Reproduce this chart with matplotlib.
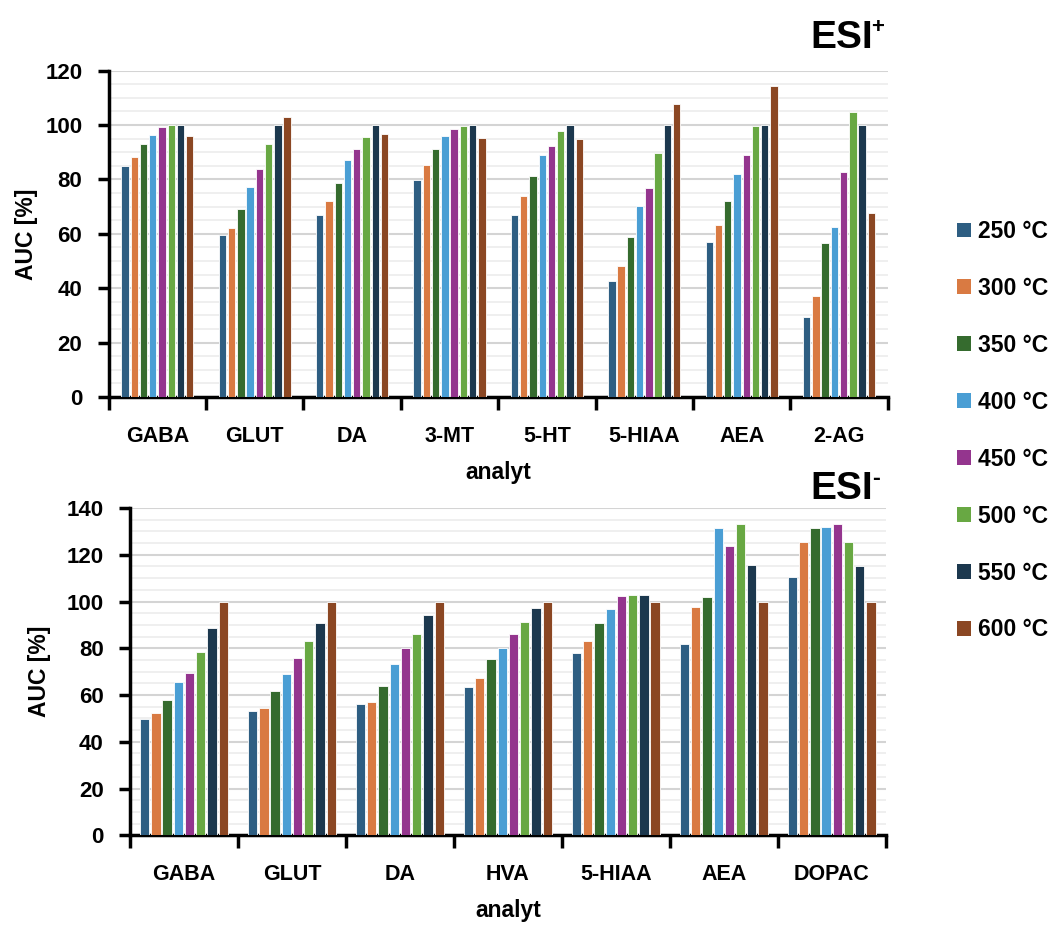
import matplotlib
matplotlib.use("Agg")
import matplotlib.pyplot as plt
import numpy as np
from matplotlib.patches import Patch
from matplotlib.ticker import MultipleLocator, FixedLocator

plt.rcParams['font.family'] = ['Liberation Sans', 'DejaVu Sans']
plt.rcParams['font.weight'] = 'bold'

temps = ['250 °C', '300 °C', '350 °C', '400 °C', '450 °C', '500 °C', '550 °C', '600 °C']
colors = ['#2E5E82', '#D97A42', '#356B2E', '#4A9ED4', '#94358E', '#68A843', '#1C384E', '#8B4723']

pos_analytes = ['GABA', 'GLUT', 'DA', '3-MT', '5-HT', '5-HIAA', 'AEA', '2-AG']
pos_250 = [84.8, 59.4, 66.8, 79.7, 66.8, 42.5, 57.0, 29.3]
pos_300 = [88.4, 62.1, 72.2, 85.2, 73.9, 48.3, 63.4, 37.1]
pos_350 = [93.0, 69.1, 78.6, 91.1, 81.3, 58.9, 72.2, 56.7]
pos_400 = [96.4, 77.3, 87.3, 96.1, 89.1, 70.3, 82.1, 62.5]
pos_450 = [99.3, 83.7, 91.1, 98.5, 92.3, 77.0, 89.1, 82.8]
pos_500 = [100.0, 93.0, 95.7, 99.8, 97.7, 89.8, 99.6, 104.8]
pos_550 = [100.0, 100.0, 100.0, 100.0, 100.0, 100.0, 100.0, 100.0]
pos_600 = [96.1, 102.8, 96.9, 95.3, 94.9, 107.8, 114.2, 67.6]

neg_analytes = ['GABA', 'GLUT', 'DA', 'HVA', '5-HIAA', 'AEA', 'DOPAC']
neg_250 = [49.6, 53.1, 56.1, 63.6, 78.1, 81.9, 110.6]
neg_300 = [52.1, 54.4, 57.1, 67.1, 83.1, 97.7, 125.3]
neg_350 = [57.7, 61.7, 64.0, 75.4, 91.0, 101.9, 131.6]
neg_400 = [65.4, 69.0, 73.1, 80.0, 96.9, 131.6, 132.0]
neg_450 = [69.6, 75.9, 80.0, 86.3, 102.3, 123.7, 133.0]
neg_500 = [78.6, 83.1, 86.0, 91.3, 102.7, 133.0, 125.3]
neg_550 = [88.6, 91.0, 94.1, 97.4, 102.7, 115.6, 115.1]
neg_600 = [100.0, 100.0, 100.0, 100.0, 100.0, 100.0, 100.0]

pos_series = [pos_250, pos_300, pos_350, pos_400, pos_450, pos_500, pos_550, pos_600]
neg_series = [neg_250, neg_300, neg_350, neg_400, neg_450, neg_500, neg_550, neg_600]

W, H = 1057, 925
fig = plt.figure(figsize=(W / 100, H / 100), dpi=100)

def px_axes(l, t, r, b):
    return fig.add_axes([l / W, 1 - b / H, (r - l) / W, (b - t) / H])

def draw(ax, cats, series, ymax, step, bw, ylabpad):
    n = len(cats)
    x = np.arange(n)
    k = len(series)
    for i, (vals, c) in enumerate(zip(series, colors)):
        off = (i - (k - 1) / 2) * step
        ax.bar(x + off, vals, width=bw, color=c, edgecolor='white', linewidth=0.6, zorder=3)
    ax.set_xlim(-0.5, n - 0.5)
    ax.set_ylim(0, ymax)
    ax.yaxis.set_major_locator(MultipleLocator(20))
    ax.yaxis.set_minor_locator(MultipleLocator(5))
    ax.grid(axis='y', which='major', color='#d4d4d4', linewidth=1.5, zorder=0)
    ax.grid(axis='y', which='minor', color='#eeeeee', linewidth=1.3, zorder=0)
    ax.set_axisbelow(True)
    ax.xaxis.set_major_locator(FixedLocator(np.arange(n + 1) - 0.5))
    ax.xaxis.set_minor_locator(FixedLocator(x))
    ax.set_xticklabels([], minor=False)
    ax.set_xticklabels(cats, minor=True)
    ax.tick_params(axis='x', which='major', length=9, width=2.5, direction='out')
    ax.tick_params(axis='x', which='minor', length=0, pad=21, labelsize=15.5)
    ax.tick_params(axis='y', which='major', length=8, width=2.5, pad=11, labelsize=16)
    ax.tick_params(axis='y', which='minor', length=0)
    for s in ['top', 'right']:
        ax.spines[s].set_visible(False)
    for s in ['left', 'bottom']:
        ax.spines[s].set_linewidth(2.5)
    for lab in ax.get_yticklabels() + ax.get_xticklabels(minor=True):
        lab.set_fontweight('bold')
    ax.set_ylabel('AUC [%]', fontsize=16.5, fontweight='bold', labelpad=ylabpad)
    ax.set_xlabel('analyt', fontsize=16.5, fontweight='bold', labelpad=10)

ax1 = px_axes(108.7, 70.7, 887.7, 397)
draw(ax1, pos_analytes, pos_series, 120, 0.095, 0.075, 5)

ax2 = px_axes(130, 508, 885.7, 835.3)
draw(ax2, neg_analytes, neg_series, 140, 0.104, 0.086, 11)

fig.text(873 / W, 1 - 48 / H, 'ESI', fontsize=28, fontweight='bold', ha='right', va='baseline')
fig.text(871 / W, 1 - 33 / H, '+', fontsize=16, fontweight='bold', ha='left', va='baseline')
fig.text(873 / W, 1 - 499 / H, 'ESI', fontsize=28, fontweight='bold', ha='right', va='baseline')
fig.text(872 / W, 1 - 485 / H, '-', fontsize=17, fontweight='bold', ha='left', va='baseline')

handles = [Patch(facecolor=c, edgecolor='none') for c in colors]
fig.legend(handles, temps, loc='upper left', bbox_to_anchor=(957 / W, 1 - 220 / H),
           frameon=False, handlelength=0.62, handleheight=0.62, borderpad=0, borderaxespad=0,
           handletextpad=0.3, labelspacing=1.48, prop={'weight': 'bold', 'size': 16.5})

fig.savefig('out.png', dpi=100)
